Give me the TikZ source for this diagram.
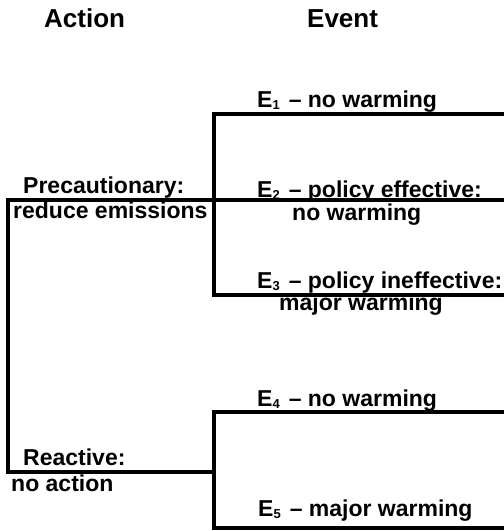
\documentclass[tikz,border=0pt]{standalone}
\usepackage{fontspec}
\setmainfont{Liberation Sans}
\newcommand{\esub}[1]{\raisebox{-2.5pt}{\fontsize{13}{13}\selectfont #1}}
\begin{document}
\begin{tikzpicture}[x=1pt,y=-1pt,
  lbl/.style={anchor=base west,inner sep=0pt,font=\fontsize{23}{27}\selectfont\bfseries},
  head/.style={anchor=base west,inner sep=0pt,font=\fontsize{26}{30}\selectfont\bfseries},
  branch/.style={line width=3.2pt,line cap=rect,line join=miter}]
\useasboundingbox (0,0) rectangle (504,531);
% headings
\node[head] (action) at (44,27) {Action};
\node[head] (event) at (307,27) {Event};
% action labels
\node[lbl] (prec) at (23,193) {Precautionary:};
\node[lbl] (prec2) at (13,218) {reduce emissions};
\node[lbl] (react) at (23,465) {Reactive:};
\node[lbl] (react2) at (11,491) {no action};
% event labels
\node[lbl] (e1) at (257,107) {E\esub{1}\hspace{9pt}– no warming};
\node[lbl] (e2) at (257,197) {E\esub{2}\hspace{9pt}– policy effective:};
\node[lbl] (e2b) at (292,220) {no warming};
\node[lbl] (e3) at (257,288) {E\esub{3}\hspace{9pt}– policy ineffective:};
\node[lbl] (e3b) at (279,310) {major warming};
\node[lbl] (e4) at (257,406) {E\esub{4}\hspace{9pt}– no warming};
\node[lbl] (e5) at (258,516) {E\esub{5}\hspace{9pt}– major warming};
% junction coordinates
\coordinate (root1) at (8,200);
\coordinate (root2) at (8,472);
\coordinate (d1) at (214,200);
\coordinate (d1top) at (214,114);
\coordinate (d1bot) at (214,295);
\coordinate (d2) at (214,472);
\coordinate (d2top) at (214,412);
\coordinate (d2bot) at (214,528);
\coordinate (end1) at (502,114);
\coordinate (end2) at (504,200);
\coordinate (end3) at (502,295);
\coordinate (end4) at (502,412);
\coordinate (end5) at (502,528);
% branches
\draw[branch] (root1) -- (root2);
\draw[branch] (root1) -- (d1) -- (end2);
\draw[branch] (root2) -- (d2);
\draw[branch] (end1) -- (d1top) -- (d1bot) -- (end3);
\draw[branch] (end4) -- (d2top) -- (d2bot) -- (end5);
\end{tikzpicture}
\end{document}
